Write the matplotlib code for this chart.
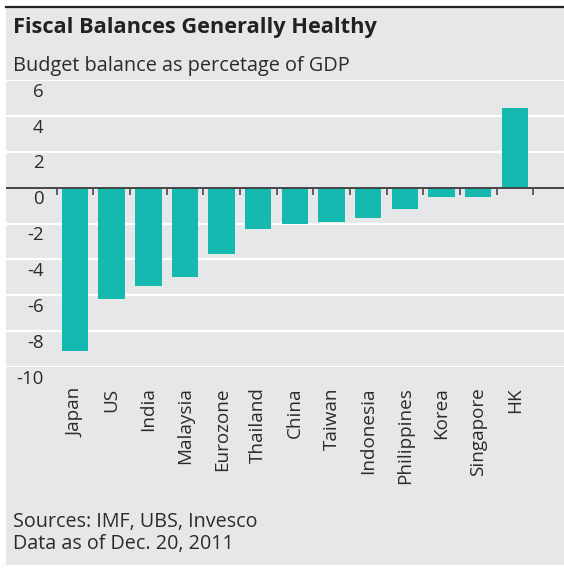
import numpy as np
import matplotlib
matplotlib.use("Agg")
import matplotlib.pyplot as plt
from matplotlib.patches import Rectangle
from matplotlib.transforms import blended_transform_factory

# Budget balance, % of GDP
countries = ["Japan", "US", "India", "Malaysia", "Eurozone", "Thailand", "China",
             "Taiwan", "Indonesia", "Philippines", "Korea", "Singapore", "HK"]
balance = [-9.1, -6.2, -5.5, -5.0, -3.7, -2.3, -2.0, -1.9, -1.7, -1.2, -0.5, -0.5, 4.4]
y_ticks = [6, 4, 2, 0, -2, -4, -6, -8, -10]

title = "Fiscal Balances Generally Healthy"
subtitle = "Budget balance as percetage of GDP"
notes = ["Sources: IMF, UBS, Invesco", "Data as of Dec. 20, 2011"]

BG = "#e6e7e9"
BAR = "#16b9b0"
TEXT = "#2b2b2b"

W, H = 564, 569
plt.rcParams["font.family"] = ["Open Sans", "DejaVu Sans"]

fig = plt.figure(figsize=(W / 100, H / 100), dpi=100)
fig.patch.set_facecolor("white")

def fx(px):
    return px / W

def fy(py):
    return 1 - py / H

# grey panel with dark top rule
fig.patches.append(Rectangle((fx(6), fy(565)), fx(558), 558 / H,
                             transform=fig.transFigure, facecolor=BG,
                             edgecolor="none", zorder=0))
fig.add_artist(plt.Line2D([fx(6), 1], [fy(6.5), fy(6.5)], color="#222222",
                          lw=1.6, transform=fig.transFigure))

fig.text(fx(13), fy(33), title, fontsize=15.7, fontweight="bold",
         color="#222222", va="baseline")
fig.text(fx(13), fy(71), subtitle, fontsize=14.3, color=TEXT, va="baseline")
fig.text(fx(13), fy(527), notes[0], fontsize=14.2, color=TEXT, va="baseline")
fig.text(fx(13), fy(549), notes[1], fontsize=14.2, color=TEXT, va="baseline")

ax = fig.add_axes([fx(6), fy(367.3), 1 - fx(6), (367.3 - 79.7) / H])
ax.set_zorder(2)
ax.set_facecolor("none")
x = np.arange(len(countries))
ax.bar(x, balance, width=0.72, color=BAR, zorder=2)
ax.set_ylim(-10, 6)
ax.set_xlim(-1.883, 13.34)

for v in y_ticks:
    if v == 0:
        ax.axhline(0, color="#3a3a3a", lw=1.3, zorder=3)
    else:
        ax.axhline(v, color="white", lw=1.6, zorder=1)

# boundary ticks hanging off the zero line
ax.vlines(np.arange(len(countries) + 1) - 0.5, -0.4, 0, color="#4a4a4a",
          lw=1.2, zorder=3)

for s in ax.spines.values():
    s.set_visible(False)
ax.set_yticks([])
ax.set_xticks(x)
ax.set_xticklabels(countries, rotation=90, fontsize=13.6, color=TEXT)
ax.tick_params(axis="x", length=0, pad=14.5)

trans = blended_transform_factory(fig.transFigure, ax.transData)
for v in y_ticks:
    ax.text(fx(43.5), v - 0.66, str(v), transform=trans, ha="right", va="center",
            fontsize=13.4, color=TEXT, clip_on=False)

fig.savefig("out.png", dpi=100)
